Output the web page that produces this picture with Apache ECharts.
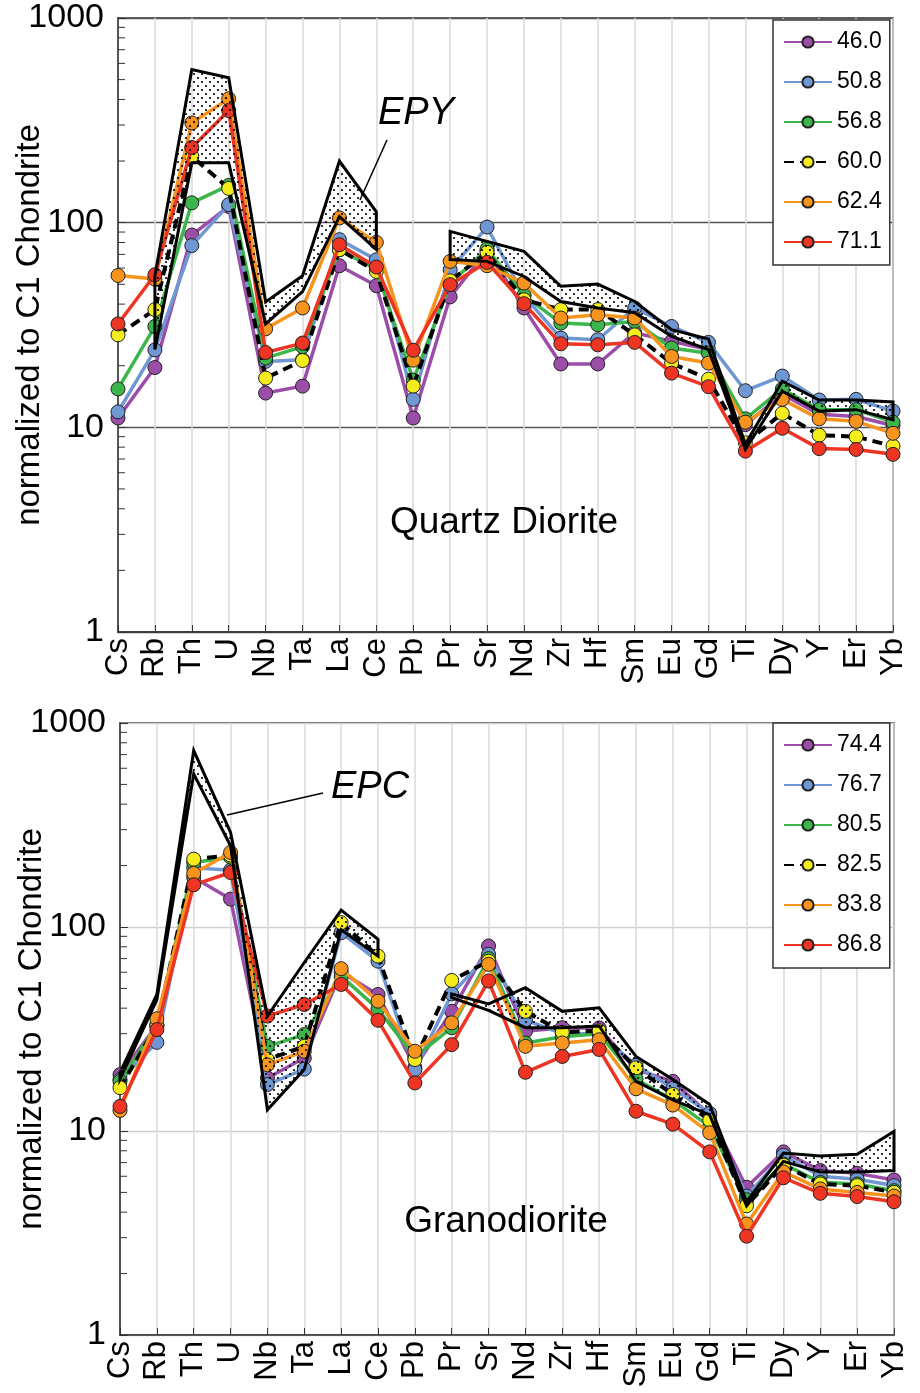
<!DOCTYPE html>
<html>
<head>
<meta charset="utf-8">
<script src="https://cdn.jsdelivr.net/npm/echarts@6/dist/echarts.min.js"></script>
<style>
html,body{margin:0;padding:0;background:#fff;}
#c{width:920px;height:1393px;}
</style>
</head>
<body>
<div id="c"></div>
<script>
// ---------- DATA ----------
const elements = ['Cs','Rb','Th','U','Nb','Ta','La','Ce','Pb','Pr','Sr','Nd','Zr','Hf','Sm','Eu','Gd','Ti','Dy','Y','Er','Yb'];
const yTickLabels = ['1','10','100','1000'];
const minorTickValues = [2,3,4,5,6,7,8,9,20,30,40,50,60,70,80,90,200,300,400,500,600,700,800,900];

// Quartz Diorite (top panel)
const qdNames = ['46.0','50.8','56.8','60.0','62.4','71.1'];
const qd46_0 = [11.1,19.6,87,120,14.7,15.9,61.6,49.2,11.1,43.4,73,38.3,20.4,20.4,29,26.3,24,10.3,14.5,11.6,11.3,10.2];
const qd50_8 = [11.9,23.9,77.3,122.5,21,21.4,82.6,65.9,13.7,58.9,95.2,44,27.3,26.8,38.3,31.1,26,15.1,17.8,13.6,13.7,12];
const qd56_8 = [15.4,31.1,125,152,21.8,24.8,73.8,59,17,50.5,74.3,44.3,32.3,31.7,32.9,24.4,23,11,15.4,12.2,12.2,10.6];
const qd60_0 = [28.3,37.6,211,147,17.4,21.2,73.8,57.8,15.9,52,71.6,42,37.6,37.6,28.3,20.6,17.2,8.4,11.7,9.15,9.0,8.1];
const qd62_4 = [55.2,53,307,403,30.3,38.3,105.5,80.1,21.3,64.7,61.6,50.7,34.2,35.5,34.2,22.2,20.6,10.6,13.7,11,10.7,9.35];
const qd71_1 = [32,55.7,233,353,23.2,25.8,78,60.7,23.8,49.8,64,40.2,25.6,25.3,26,18.4,15.8,7.65,9.9,7.87,7.8,7.38];
// EPY field envelope
const epyUpper = [null,55,560,510,41,55,200,113,null,90.7,81,72.4,48.9,50.1,41.2,30,27,8.3,16.8,13.6,13.6,13.3];
const epyLower = [null,24,196,196,32,46,107,74,null,66,64.7,54.6,41.2,38.3,36.3,27.8,24,7.8,15,12,12.2,10.9];

// Granodiorite (bottom panel)
const gdNames = ['74.4','76.7','80.5','82.5','83.8','86.8'];
const gd74_4 = [18.9,33,175,137,18.2,22.8,60,46.7,20.5,38.6,80.7,30.8,32.1,32,20,17.5,12,5.3,7.9,6.4,6.2,5.75];
const gd76_7 = [17.9,27.2,195,190,16.9,20.1,93.8,68,20,47,73.5,35,30,30,21,16.2,12.2,4.8,7.6,6.0,5.8,5.4];
const gd80_5 = [17.5,33,207,220,26,29.7,57.4,39.7,23,32.1,70,27,29,30,18,14.2,10.5,4.6,6.9,5.6,5.5,5.1];
const gd82_5 = [16.3,33,215,225,22.4,26,105,72,22.4,54.7,68,38.6,30.5,31,20.4,15.1,11.3,4.3,6.8,5.5,5.4,5.0];
const gd83_8 = [12.6,35.5,183,232,21.1,24.6,62.5,43.3,24.6,33.9,65.6,26,27,28,16.1,13.4,9.8,3.5,6.3,5.2,5.0,4.8];
const gd86_8 = [13.2,31.4,161,185,36.6,41.7,52.3,34.9,17.2,26.5,54.4,19.4,23.2,25.1,12.5,10.8,7.9,3.05,5.9,4.95,4.77,4.5];
// EPC field envelope
const epcUpper = [19.3,46.7,733,291,36.6,67,121,87,null,47,42,50.4,38.6,40.2,23.2,17.9,13.5,4.5,7.8,7.55,7.7,9.95];
const epcLower = [18,44,562,250,12.7,20,97,72,null,45,39,32.1,32.1,32.7,17.5,14.2,12,4.3,7.1,6.3,6.3,6.4];

// ---------- STYLES ----------
const FONT = 'Liberation Sans, Arial, Helvetica, sans-serif';
const colors = ['#9b4ea8','#6f97d3','#3cb54a','#f4ec1c','#f7941d','#ee3524'];

const pc = document.createElement('canvas');
pc.width = 8; pc.height = 8;
const pctx = pc.getContext('2d');
pctx.fillStyle = '#000';
pctx.beginPath(); pctx.arc(2,2,1.1,0,Math.PI*2); pctx.fill();
pctx.beginPath(); pctx.arc(6,6,1.1,0,Math.PI*2); pctx.fill();
const dotPattern = {image: pc, repeat: 'repeat'};

function lineSeries(name, data, idx, gi) {
  const dashed = idx === 3;
  return {
    name: name, type: 'line', data: data,
    xAxisIndex: gi, yAxisIndex: gi,
    symbol: 'circle', symbolSize: 14,
    z: 3 + idx * 0.01,
    lineStyle: dashed ? {color: '#000', width: 4, type: [10, 6]} : {color: colors[idx], width: 3.5},
    itemStyle: {color: colors[idx], borderColor: '#222', borderWidth: 1},
    emphasis: {disabled: true},
    animation: false
  };
}

function fieldSeries(upper, lower, gi) {
  const segs = [];
  let start = null;
  for (let i = 0; i <= upper.length; i++) {
    const ok = i < upper.length && upper[i] != null;
    if (ok && start === null) start = i;
    if (!ok && start !== null) { segs.push([start, 10, i - 1]); start = null; }
  }
  return {
    type: 'custom', xAxisIndex: gi, yAxisIndex: gi, z: 6, silent: true, animation: false,
    data: segs,
    encode: {x: 0, y: 1},
    renderItem: function (params, api) {
      const s = api.value(0), e = api.value(2);
      const pts = [];
      for (let i = s; i <= e; i++) pts.push(api.coord([i, upper[i]]));
      for (let i = e; i >= s; i--) pts.push(api.coord([i, lower[i]]));
      return {type: 'polygon', shape: {points: pts},
        style: {fill: dotPattern, stroke: '#000', lineWidth: 3, lineJoin: 'miter'}};
    }
  };
}

function minorTickSeries(gi) {
  return {
    type: 'custom', xAxisIndex: gi, yAxisIndex: gi, z: 7, silent: true, animation: false,
    data: minorTickValues.map(v => [0, v]),
    renderItem: function (params, api) {
      const p = api.coord([0, api.value(1)]);
      return {type: 'line', shape: {x1: p[0], y1: p[1], x2: p[0] + 7, y2: p[1]},
        style: {stroke: '#333', lineWidth: 1}};
    }
  };
}

function xAxis(gi) {
  return {
    type: 'category', gridIndex: gi, data: elements, boundaryGap: false,
    axisLine: {show: true, lineStyle: {color: '#333', width: 1.5}},
    axisTick: {show: true, inside: true, length: 7, interval: 0, lineStyle: {color: '#333'}},
    axisLabel: {rotate: 90, interval: 0, fontSize: 31, color: '#000', fontFamily: FONT, margin: 6},
    splitLine: {show: true, interval: 0, lineStyle: {color: '#dadada', width: 1.5}}
  };
}
function yAxis(gi, splitColor) {
  return {
    type: 'log', gridIndex: gi, logBase: 10, min: 1, max: 1000,
    name: 'normalized to C1 Chondrite', nameLocation: 'middle', nameGap: 72, nameMoveOverlap: false,
    nameTextStyle: {fontSize: 33, color: '#000', fontFamily: FONT},
    axisLine: {show: true, lineStyle: {color: '#333', width: 1.5}},
    axisTick: {show: true, inside: true, length: 8, lineStyle: {color: '#333'}},
    axisLabel: {fontSize: 34, color: '#000', fontFamily: FONT, margin: 14,
      formatter: function (v) { const s = String(Math.round(v)); return yTickLabels.indexOf(s) >= 0 ? s : ''; }},
    splitLine: {show: true, lineStyle: {color: splitColor, width: 1.3}}
  };
}
function legend(names, top) {
  return {
    data: names.map(n => ({name: n})), orient: 'vertical', left: 773, top: top,
    width: 120, padding: [10, 8, 11, 10], itemGap: 16, itemWidth: 48, itemHeight: 14,
    backgroundColor: '#fff', borderColor: '#333', borderWidth: 1.5,
    textStyle: {fontSize: 23, color: '#000', fontFamily: FONT, lineHeight: 24},
    selectedMode: false
  };
}

const qdData = [qd46_0, qd50_8, qd56_8, qd60_0, qd62_4, qd71_1];
const gdData = [gd74_4, gd76_7, gd80_5, gd82_5, gd83_8, gd86_8];
const series = [];
qdData.forEach((d, i) => series.push(lineSeries(qdNames[i], d, i, 0)));
gdData.forEach((d, i) => series.push(lineSeries(gdNames[i], d, i, 1)));
series.push(fieldSeries(epyUpper, epyLower, 0));
series.push(fieldSeries(epcUpper, epcLower, 1));
series.push(minorTickSeries(0));
series.push(minorTickSeries(1));

const option = {
  backgroundColor: '#fff',
  animation: false,
  grid: [
    {left: 118, top: 18, width: 775, height: 614, show: true, borderColor: '#333', borderWidth: 1.5, backgroundColor: 'transparent', containLabel: false, outerBoundsMode: 'none'},
    {left: 120, top: 723, width: 774, height: 612, show: true, borderColor: '#333', borderWidth: 1.5, backgroundColor: 'transparent', containLabel: false, outerBoundsMode: 'none'}
  ],
  xAxis: [xAxis(0), xAxis(1)],
  yAxis: [yAxis(0, '#555'), yAxis(1, '#cfcfcf')],
  legend: [legend(qdNames, 20), legend(gdNames, 723)],
  series: series,
  graphic: [
    {type: 'text', x: 378, y: 94, z: 100, style: {text: 'EPY', font: 'italic 38px ' + FONT, fill: '#000'}},
    {type: 'line', z: 100, shape: {x1: 387, y1: 140, x2: 360, y2: 200}, style: {stroke: '#000', lineWidth: 1.5}},
    {type: 'text', x: 504, y: 523, z: 100, style: {text: 'Quartz Diorite', font: '37px ' + FONT, fill: '#000', align: 'center', verticalAlign: 'middle'}},
    {type: 'text', x: 331, y: 768, z: 100, style: {text: 'EPC', font: 'italic 38px ' + FONT, fill: '#000'}},
    {type: 'line', z: 100, shape: {x1: 323, y1: 793, x2: 227, y2: 815}, style: {stroke: '#000', lineWidth: 1.5}},
    {type: 'text', x: 506, y: 1222, z: 100, style: {text: 'Granodiorite', font: '37px ' + FONT, fill: '#000', align: 'center', verticalAlign: 'middle'}}
  ]
};

const chart = echarts.init(document.getElementById('c'), null, {renderer: 'canvas'});
chart.setOption(option);
</script>
</body>
</html>
